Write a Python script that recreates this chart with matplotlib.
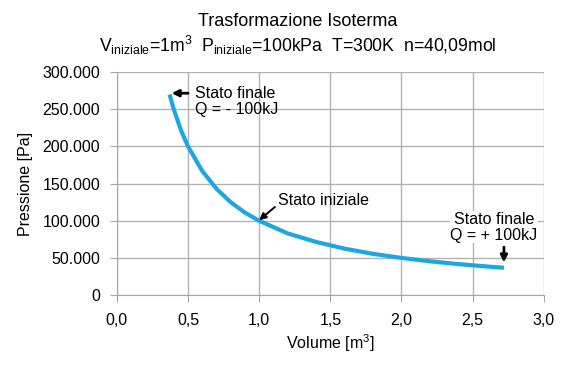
import matplotlib
matplotlib.use('Agg')
import matplotlib.pyplot as plt
from matplotlib.ticker import FuncFormatter, MultipleLocator

plt.rcParams['font.family'] = ['Liberation Sans', 'DejaVu Sans']
plt.rcParams['mathtext.fontset'] = 'custom'
plt.rcParams['mathtext.rm'] = 'Liberation Sans'
plt.rcParams['mathtext.it'] = 'Liberation Sans'

# volume [m3] and pressure [Pa]
volume = [0.37, 0.40, 0.45, 0.50, 0.60, 0.70, 0.80, 0.90, 1.00, 1.20, 1.40,
          1.60, 1.80, 2.00, 2.20, 2.40, 2.60, 2.72]
pressione = [270000, 250000, 222000, 200000, 167000, 143000, 125000, 111000,
             100000, 83000, 71500, 62500, 55500, 50000, 45500, 41700, 38500, 36800]

fs = 11.5
fig = plt.figure(figsize=(5.73, 3.74), dpi=100)
ax = fig.add_axes([0.204, 0.211, 0.745, 0.596])

ax.plot(volume, pressione, color='#1CA7E3', linewidth=3.0, solid_capstyle='butt', zorder=3)

ax.set_xlim(0, 3.0)
ax.set_ylim(0, 300000)
ax.xaxis.set_major_locator(MultipleLocator(0.5))
ax.yaxis.set_major_locator(MultipleLocator(50000))
ax.xaxis.set_major_formatter(FuncFormatter(lambda v, p: ('%.1f' % v).replace('.', ',')))
ax.yaxis.set_major_formatter(FuncFormatter(lambda v, p: '{:,.0f}'.format(v).replace(',', '.')))

ax.grid(True, color='#B3B3B3', linewidth=1)
ax.set_axisbelow(True)
for s in ['top', 'right']:
    ax.spines[s].set_visible(False)
for s in ['left', 'bottom']:
    ax.spines[s].set_color('#A6A6A6')
ax.tick_params(colors='#A6A6A6', labelcolor='black', labelsize=fs, length=5, direction='out')
ax.tick_params(axis='x', pad=8)
ax.tick_params(axis='y', pad=7)

ax.set_xlabel(r'Volume [m$^3$]', fontsize=fs, labelpad=3)
ax.set_ylabel('Pressione [Pa]', fontsize=fs, labelpad=7)

fig.text(0.52, 0.942, 'Trasformazione Isoterma', ha='center', va='center', fontsize=13)
fig.text(0.52, 0.878, r'V$_{\mathrm{iniziale}}$=1m$^3$  P$_{\mathrm{iniziale}}$=100kPa  T=300K  n=40,09mol',
         ha='center', va='center', fontsize=12.7)

arrow = dict(arrowstyle='-|>', color='black', lw=2.0, mutation_scale=10, shrinkA=0, shrinkB=0)
ax.text(0.55, 282000, 'Stato finale\nQ = - 100kJ', fontsize=fs, va='top', ha='left', linespacing=1.1)
ax.annotate('', xy=(0.385, 271700), xytext=(0.50, 271700), arrowprops=arrow)

ax.annotate('Stato iniziale', xy=(1.0, 100800), xytext=(1.13, 127800),
            fontsize=fs, va='center', ha='left',
            arrowprops=dict(arrowstyle='-|>', color='black', lw=1.4, mutation_scale=10,
                            shrinkA=0, shrinkB=0, relpos=(0, 0.2)))

ax.text(2.65, 91500, 'Stato finale\nQ = + 100kJ', fontsize=fs, ha='center', va='center',
        linespacing=1.1, bbox=dict(facecolor='white', edgecolor='none', pad=0.5))
ax.annotate('', xy=(volume[-1], 44000), xytext=(volume[-1], 64500), arrowprops=arrow)

fig.savefig('out.png', dpi=100)
